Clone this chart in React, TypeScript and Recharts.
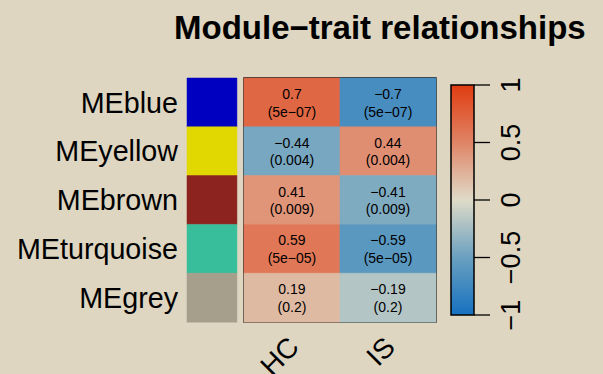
import React from "react";
import { BarChart, Bar, XAxis, YAxis, Cell, LabelList, ReferenceArea } from "recharts";

const modules = ["MEblue", "MEyellow", "MEbrown", "MEturquoise", "MEgrey"];
const moduleColors = ["#0000c0", "#e0d800", "#8c231e", "#38be9a", "#a69f8c"];
const traits = ["HC", "IS"];
const corHC = [0.7, -0.44, 0.41, 0.59, 0.19];
const corIS = [-0.7, 0.44, -0.41, -0.59, -0.19];
const pHC = ["5e-07", "0.004", "0.009", "5e-05", "0.2"];
const pIS = ["5e-07", "0.004", "0.009", "5e-05", "0.2"];
const legendTicks = [-1, -0.5, 0, 0.5, 1];

const BG = "#ded6c0";
const FONT = "'Liberation Sans', Arial, sans-serif";

// widths of the module strip and the gap, in units of one heatmap column
const STRIP = 0.52;
const GAP = 0.073;
const OFFSET = STRIP + GAP;

// colour scale stops
const stops: [number, number[]][] = [
  [-1, [0x16, 0x71, 0xc0]],
  [-0.5, [0x6a, 0xa0, 0xc0]],
  [0, [0xdf, 0xdb, 0xc8]],
  [0.5, [0xe0, 0x84, 0x66]],
  [1, [0xe0, 0x3c, 0x10]],
];

function colorFor(v: number) {
  for (let i = 0; i < stops.length - 1; i++) {
    const [a, ca] = stops[i];
    const [b, cb] = stops[i + 1];
    if (v >= a && v <= b) {
      const t = (v - a) / (b - a);
      const c = ca.map((x, k) => Math.round(x + (cb[k] - x) * t));
      return `rgb(${c[0]},${c[1]},${c[2]})`;
    }
  }
  return "#000";
}

const minus = (s: string) => s.replace(/-/g, "\u2212");

const rows = modules.map((m, i) => ({
  module: m,
  strip: STRIP,
  gap: GAP,
  HC: 1,
  IS: 1,
  labelHC: `${minus(String(corHC[i]))}|(${minus(pHC[i])})`,
  labelIS: `${minus(String(corIS[i]))}|(${minus(pIS[i])})`,
}));

const legendData = [{ name: "scale", range: [-1, 1] }];

const CellLabel = (props: any) => {
  const { x, y, width, height, value } = props;
  const [r, p] = String(value).split("|");
  const cx = x + width / 2;
  const cy = y + height / 2;
  return (
    <g>
      <text x={cx} y={cy - 8.5} textAnchor="middle" dominantBaseline="central" fontSize={14} fill="#000" fontFamily={FONT}>
        {r}
      </text>
      <text x={cx} y={cy + 9} textAnchor="middle" dominantBaseline="central" fontSize={14} fill="#000" fontFamily={FONT}>
        {p}
      </text>
    </g>
  );
};

const TraitTick = (props: any) => {
  const { x, y, payload } = props;
  const name = traits[Math.round(payload.value - OFFSET - 0.5)];
  const tx = x + 2;
  const ty = y + 12;
  return (
    <text x={tx} y={ty} transform={`rotate(-45, ${tx}, ${ty})`} textAnchor="end" dominantBaseline="central" fontSize={28} fill="#000" fontFamily={FONT}>
      {name}
    </text>
  );
};

const ScaleTick = (props: any) => {
  const { x, y, payload } = props;
  const tx = x + 21;
  return (
    <text x={tx} y={y} transform={`rotate(-90, ${tx}, ${y})`} textAnchor="middle" dominantBaseline="central" fontSize={27} fill="#000" fontFamily={FONT}>
      {minus(String(payload.value))}
    </text>
  );
};

export default function App() {
  return (
    <div style={{ position: "absolute", left: 0, top: 0, width: 603, height: 374, background: BG, overflow: "hidden", fontFamily: FONT }}>
      <div style={{ position: "absolute", left: 174, top: 11, fontSize: 33, lineHeight: "33px", fontWeight: "bold", color: "#000", whiteSpace: "nowrap" }}>
        Module{"\u2212"}trait relationships
      </div>

      <div style={{ position: "absolute", left: 0, top: 0 }}>
        <BarChart width={440} height={374} data={rows} layout="vertical" barCategoryGap={0} margin={{ top: 78, right: 4, bottom: 0, left: 0 }}>
          <XAxis type="number" domain={[0, OFFSET + 2]} ticks={[OFFSET + 0.5, OFFSET + 1.5]} axisLine={false} tickLine={false} tick={<TraitTick />} height={52} interval={0} />
          <YAxis type="category" dataKey="module" width={187} axisLine={false} tickLine={false} tickSize={0} tickMargin={9} tick={{ fontSize: 28.7, fill: "#000", fontFamily: FONT }} />
          <Bar dataKey="strip" stackId="a" isAnimationActive={false}>
            {modules.map((m, i) => (
              <Cell key={m} fill={moduleColors[i]} stroke={moduleColors[i]} strokeWidth={0.5} />
            ))}
          </Bar>
          <Bar dataKey="gap" stackId="a" fill="transparent" isAnimationActive={false} />
          <Bar dataKey="HC" stackId="a" isAnimationActive={false}>
            {corHC.map((v, i) => (
              <Cell key={i} fill={colorFor(v)} stroke={colorFor(v)} strokeWidth={0.5} />
            ))}
            <LabelList dataKey="labelHC" content={<CellLabel />} />
          </Bar>
          <Bar dataKey="IS" stackId="a" isAnimationActive={false}>
            {corIS.map((v, i) => (
              <Cell key={i} fill={colorFor(v)} stroke={colorFor(v)} strokeWidth={0.5} />
            ))}
            <LabelList dataKey="labelIS" content={<CellLabel />} />
          </Bar>
          <ReferenceArea x1={OFFSET} x2={OFFSET + 2} fill="none" fillOpacity={0} stroke="#000" strokeWidth={1.3} ifOverflow="visible" />
        </BarChart>
      </div>

      <div style={{ position: "absolute", left: 440, top: 0 }}>
        <BarChart width={163} height={374} data={legendData} barCategoryGap={0} margin={{ top: 85, right: 69, bottom: 59, left: 11 }}>
          <defs>
            <linearGradient id="corScale" x1="0" y1="1" x2="0" y2="0">
              {stops.map(([v, c]) => (
                <stop key={v} offset={`${((v + 1) / 2) * 100}%`} stopColor={`rgb(${c[0]},${c[1]},${c[2]})`} />
              ))}
            </linearGradient>
          </defs>
          <XAxis dataKey="name" hide />
          <YAxis type="number" orientation="right" domain={[-1, 1]} ticks={legendTicks} interval={0} width={60} axisLine={false} tickLine={{ stroke: "#000", strokeWidth: 1.3 }} tickSize={16} tickMargin={0} tick={<ScaleTick />} />
          <Bar dataKey="range" fill="url(#corScale)" stroke="#000" strokeWidth={1.5} isAnimationActive={false} />
        </BarChart>
      </div>
    </div>
  );
}
